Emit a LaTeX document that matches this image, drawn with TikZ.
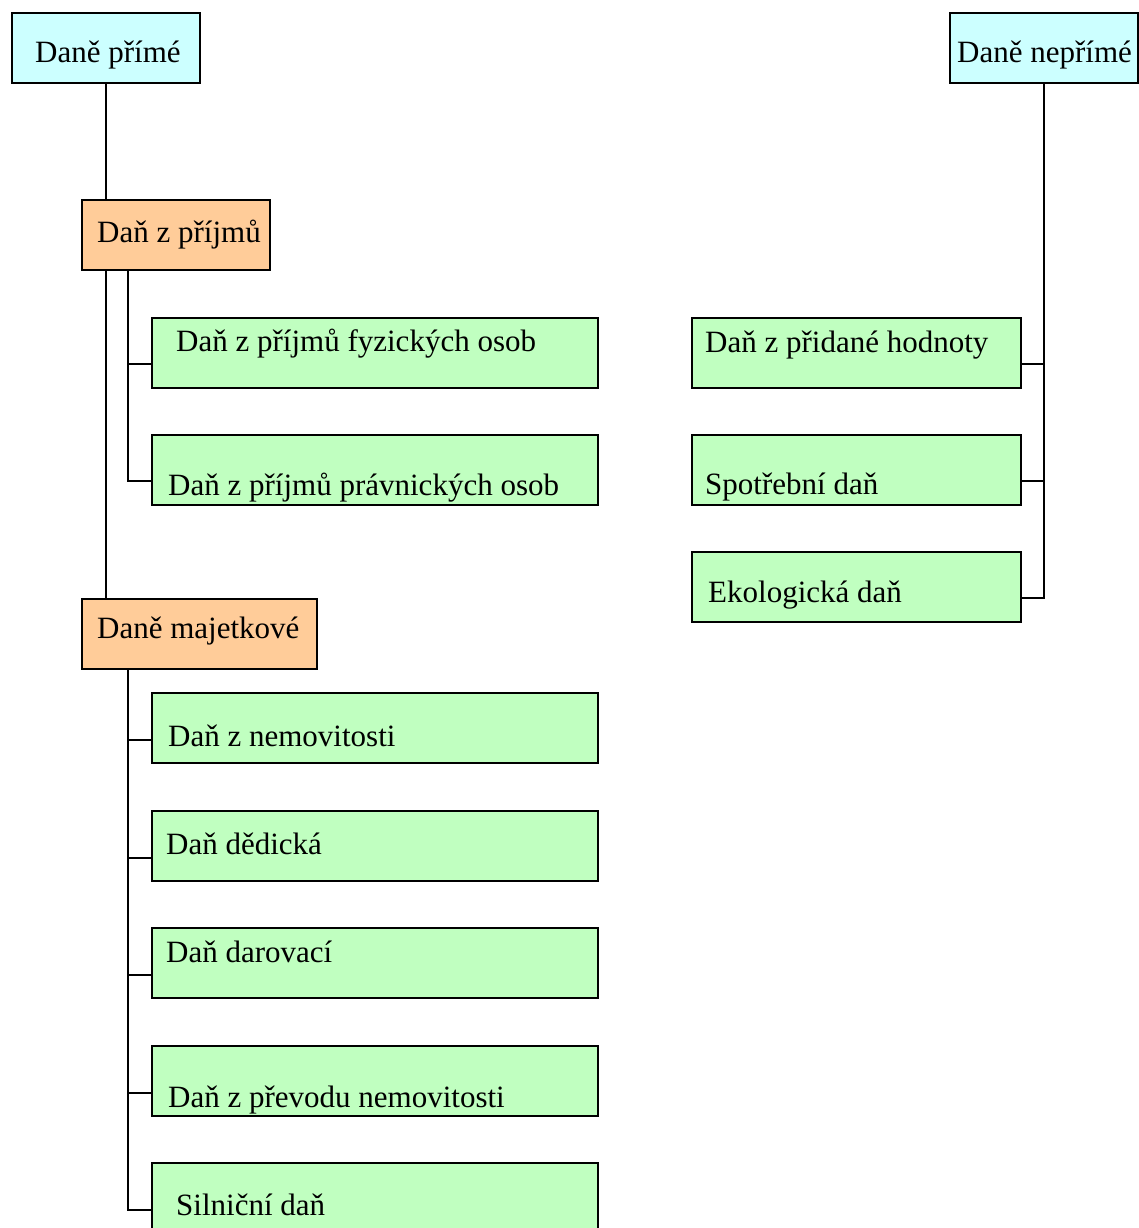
\documentclass[tikz,border=0pt]{standalone}
\usepackage{fontspec}
\setmainfont{Liberation Serif}
\definecolor{cyanc}{HTML}{CCFFFF}
\definecolor{orangec}{HTML}{FFCC99}
\definecolor{greenc}{HTML}{C0FFC0}
\begin{document}
\begin{tikzpicture}[x=1pt,y=-1pt,
  box/.style={draw=black, line width=2pt, rectangle, inner sep=0pt, anchor=north west, minimum height=70pt},
  topbox/.style={box, fill=cyanc, minimum width=188pt},
  midbox/.style={box, fill=orangec},
  leafbox/.style={box, fill=greenc},
  txt/.style={anchor=base west, inner sep=0pt, font=\fontsize{31}{37}\selectfont},
  conn/.style={line width=2pt}]
\useasboundingbox (0,0) rectangle (1138,1228);
% top level
\node[topbox] (dp) at (11,12) {};
\node[txt] (dpt) at (35,63) {Daně přímé};
\node[topbox] (dn) at (949,12) {};
\node[txt] (dnt) at (957,63) {Daně nepřímé};
% mid level
\node[midbox, minimum width=188pt] (dzp) at (81,199) {};
\node[txt] (dzpt) at (97,242) {Daň z příjmů};
\node[midbox, minimum width=235pt] (dm) at (81,598) {};
\node[txt] (dmt) at (97,638) {Daně majetkové};
% left leaves
\node[leafbox, minimum width=446pt] (f1) at (151,317) {};
\node[txt] (f1t) at (176,351) {Daň z příjmů fyzických osob};
\node[leafbox, minimum width=446pt] (f2) at (151,434) {};
\node[txt] (f2t) at (168,495) {Daň z příjmů právnických osob};
\node[leafbox, minimum width=446pt] (m1) at (151,692) {};
\node[txt] (m1t) at (168,746) {Daň z nemovitosti};
\node[leafbox, minimum width=446pt] (m2) at (151,810) {};
\node[txt] (m2t) at (166,854) {Daň dědická};
\node[leafbox, minimum width=446pt] (m3) at (151,927) {};
\node[txt] (m3t) at (166,962) {Daň darovací};
\node[leafbox, minimum width=446pt] (m4) at (151,1045) {};
\node[txt] (m4t) at (168,1107) {Daň z převodu nemovitosti};
\node[leafbox, minimum width=446pt] (m5) at (151,1162) {};
\node[txt] (m5t) at (176,1215) {Silniční daň};
% right leaves
\node[leafbox, minimum width=329pt] (n1) at (691,317) {};
\node[txt] (n1t) at (705,352) {Daň z přidané hodnoty};
\node[leafbox, minimum width=329pt] (n2) at (691,434) {};
\node[txt] (n2t) at (705,494) {Spotřební daň};
\node[leafbox, minimum width=329pt] (n3) at (691,551) {};
\node[txt] (n3t) at (708,602) {Ekologická daň};
% connectors
\draw[conn] (dp.south) -- (dp.south |- dzp.north);
\draw[conn] (dp.south |- dzp.south) -- (dp.south |- dm.north);
\coordinate (zp) at ([xshift=47pt]dzp.south west);
\draw[conn] (zp) |- ([yshift=-11pt]f1.west);
\draw[conn] (zp) |- ([yshift=-11pt]f2.west);
\coordinate (mj) at ([xshift=47pt]dm.south west);
\foreach \b in {m1,m2,m3,m4,m5}{
  \draw[conn] (mj) |- ([yshift=-12pt]\b.west);
}
\foreach \b in {n1,n2,n3}{
  \draw[conn] (dn.south) |- ([yshift=-11pt]\b.east);
}
\end{tikzpicture}
\end{document}
